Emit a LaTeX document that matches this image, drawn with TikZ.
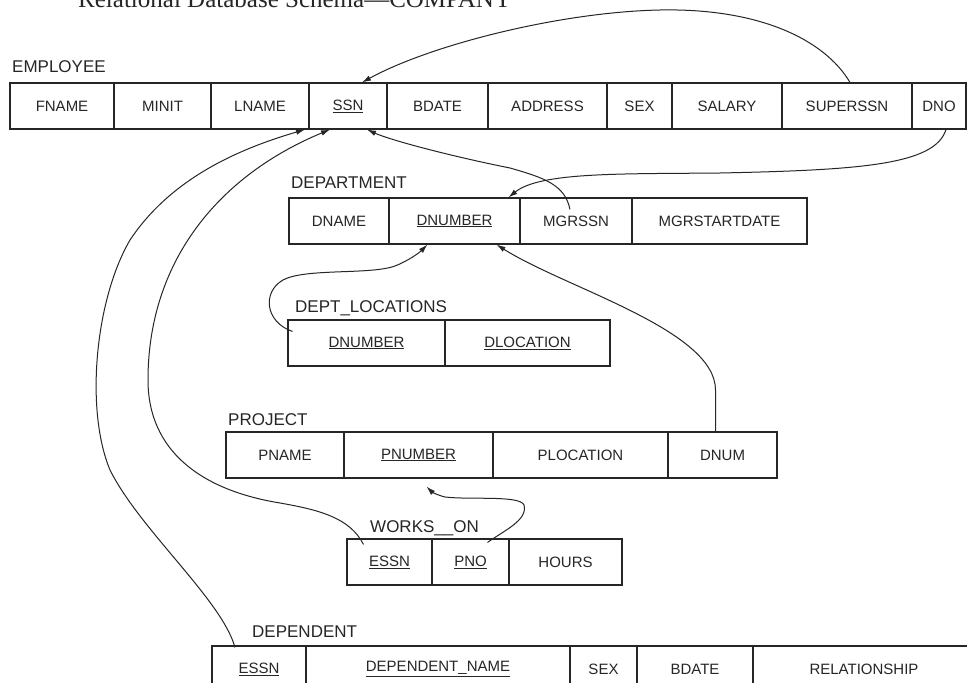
\documentclass[tikz,border=0pt]{standalone}
\usepackage{fontspec}
\setmainfont{Liberation Sans}
\newfontfamily\titlefont{Liberation Serif}
\usetikzlibrary{arrows.meta}
\definecolor{ink}{HTML}{262626}
\begin{document}
\begin{tikzpicture}[x=1pt,y=-1pt,
  cell/.style={draw=ink, line width=1.1pt, minimum height=46pt, inner sep=0pt,
    font=\fontsize{15}{18}\selectfont, text=ink},
  lbl/.style={anchor=base west, inner sep=0pt, font=\fontsize{17}{20}\selectfont, text=ink},
  fk/.style={draw=ink, line width=1pt, -{Latex[length=9pt,width=5.5pt]}}]
\useasboundingbox (0,0) rectangle (967,683);
\clip (0,0) rectangle (967,683);
\fill[white] (0,0) rectangle (967,683);

% title (cut off at the top, as in the reference)
\node[anchor=base west, inner sep=0pt, font=\titlefont\fontsize{25}{29}\selectfont, text=ink] (title) at (78,7) {Relational Database Schema—COMPANY};

% EMPLOYEE
\node[lbl] (l-emp) at (12,72) {EMPLOYEE};
\node[cell,minimum width=104pt] (e-fname) at (62,106) {FNAME};
\node[cell,minimum width=97pt] (e-minit) at (162.5,106) {MINIT};
\node[cell,minimum width=98pt] (e-lname) at (260,106) {LNAME};
\node[cell,minimum width=78pt] (e-ssn) at (348,106) {\underline{SSN}};
\node[cell,minimum width=101pt] (e-bdate) at (437.5,106) {BDATE};
\node[cell,minimum width=119pt] (e-address) at (547.5,106) {ADDRESS};
\node[cell,minimum width=65pt] (e-sex) at (639.5,106) {SEX};
\node[cell,minimum width=110pt] (e-salary) at (727,106) {SALARY};
\node[cell,minimum width=130pt] (e-super) at (847,106) {SUPERSSN};
\node[cell,minimum width=54pt] (e-dno) at (939,106) {DNO};

% DEPARTMENT
\node[lbl] (l-dept) at (291,188) {DEPARTMENT};
\node[cell,minimum width=100pt] (d-dname) at (339,221) {DNAME};
\node[cell,minimum width=131pt] (d-dnum) at (454.5,221) {\underline{DNUMBER}};
\node[cell,minimum width=112pt] (d-mgr) at (576,221) {MGRSSN};
\node[cell,minimum width=175pt] (d-mgrdate) at (719.5,221) {MGRSTARTDATE};

% DEPT_LOCATIONS
\node[lbl] (l-dl) at (295,312) {DEPT\_LOCATIONS};
\node[cell,minimum width=157pt] (dl-dnum) at (366.5,343) {\underline{DNUMBER}};
\node[cell,minimum width=165pt] (dl-loc) at (527.5,343) {\underline{DLOCATION}};

% PROJECT
\node[lbl] (l-proj) at (228,425) {PROJECT};
\node[cell,minimum width=118pt] (p-pname) at (285,455) {PNAME};
\node[cell,minimum width=149pt] (p-pnum) at (418.5,455) {\underline{PNUMBER}};
\node[cell,minimum width=175pt] (p-ploc) at (580.5,455) {PLOCATION};
\node[cell,minimum width=109pt] (p-dnum) at (722.5,455) {DNUM};

% WORKS_ON
\node[lbl] (l-wo) at (370,532) {WORKS\_\_ON};
\node[cell,minimum width=85pt] (wo-essn) at (389.5,562) {\underline{ESSN}};
\node[cell,minimum width=77pt] (wo-pno) at (470.5,562) {\underline{PNO}};
\node[cell,minimum width=113pt] (wo-hours) at (565.5,562) {HOURS};

% DEPENDENT
\node[lbl] (l-dep) at (252,637) {DEPENDENT};
\node[cell,minimum width=94pt] (dep-essn) at (259,669) {\underline{ESSN}};
\node[cell,minimum width=264pt] (dep-name) at (438,669) {\underline{DEPENDENT\_NAME}};
\node[cell,minimum width=67pt] (dep-sex) at (603.5,669) {SEX};
\node[cell,minimum width=116pt] (dep-bdate) at (695,669) {BDATE};
\node[cell,minimum width=222pt] (dep-rel) at (864,669) {RELATIONSHIP};

% foreign keys
% SUPERSSN -> SSN
\draw[fk] ([xshift=3pt]e-super.north) .. controls (825,40) and (760,8) .. (660,10)
  .. controls (560,12) and (430,45) .. ([xshift=14pt]e-ssn.north);
% DNO -> DEPARTMENT.DNUMBER
\draw[fk] ([xshift=7pt]e-dno.south) .. controls (935,165) and (860,170) .. (720,173)
  .. controls (620,174) and (540,172) .. ([xshift=54pt]d-dnum.north);
% MGRSSN -> SSN
\draw[fk] ([xshift=-6pt,yshift=-12pt]d-mgr.north) .. controls (565,185) and (545,178) .. (510,168)
  .. controls (450,156) and (390,140) .. ([xshift=19pt]e-ssn.south);
% DEPT_LOCATIONS.DNUMBER -> DEPARTMENT.DNUMBER
\draw[fk] ([xshift=5pt,yshift=-12pt]dl-dnum.north west) .. controls (265,322) and (262,292) .. (283,280)
  .. controls (305,268) and (370,275) .. (395,266)
  .. controls (410,260) and (420,252) .. ([xshift=-27pt]d-dnum.south);
% DNUM -> DEPARTMENT.DNUMBER
\draw[fk] ([xshift=-7pt]p-dnum.north) -- (715.5,390) .. controls (715.5,330) and (565,288) .. ([xshift=42pt]d-dnum.south);
% WORKS_ON.ESSN -> SSN
\draw[fk] ([xshift=-26pt,yshift=-6pt]wo-essn.north) .. controls (350,518) and (320,510) .. (280,503)
  .. controls (200,490) and (148,450) .. (148,380)
  .. controls (148,260) and (220,175) .. ([xshift=-18pt]e-ssn.south);
% WORKS_ON.PNO -> PNUMBER
\draw[fk] ([xshift=17pt,yshift=-4pt]wo-pno.north) .. controls (505,530) and (528,520) .. (524,505)
  .. controls (520,495) and (470,500) .. (445,497)
  .. controls (437,495) and (432,492) .. ([xshift=8pt,yshift=-8pt]p-pnum.south);
% DEPENDENT.ESSN -> SSN
\draw[fk] ([xshift=-24pt,yshift=-2pt]dep-essn.north) .. controls (222,600) and (140,530) .. (110,470)
  .. controls (85,410) and (95,300) .. (130,240)
  .. controls (170,180) and (235,150) .. ([xshift=-43pt]e-ssn.south);
\end{tikzpicture}
\end{document}
